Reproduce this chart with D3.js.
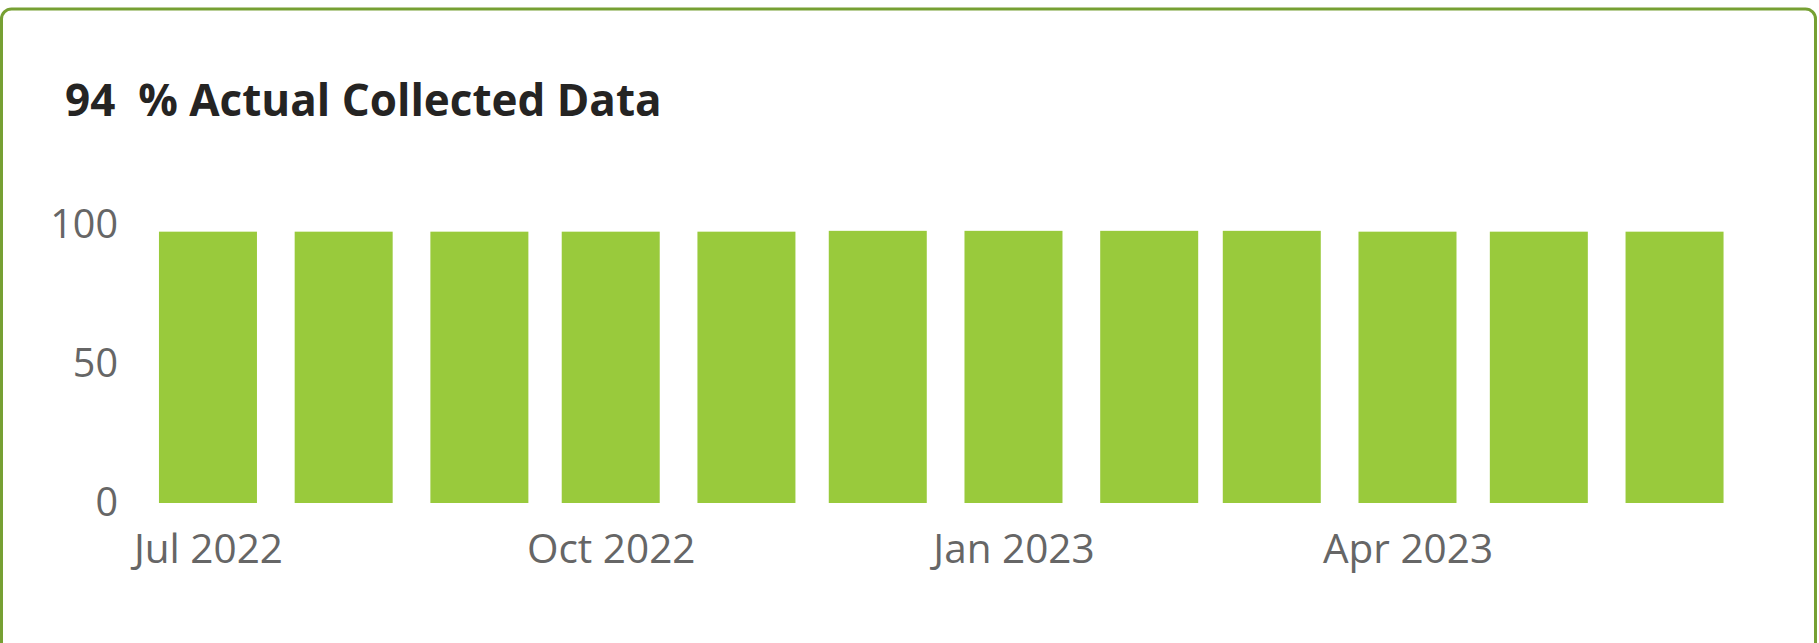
<!DOCTYPE html>
<html>
<head>
<meta charset="utf-8">
<script src="https://cdnjs.cloudflare.com/ajax/libs/d3/7.8.5/d3.min.js"></script>
<style>
  body { margin: 0; background: #fff; }
  svg { display: block; }
</style>
</head>
<body>
<script>
// monthly values
var months = ["2022-07-01", "2022-08-01", "2022-09-01", "2022-10-01", "2022-11-01", "2022-12-01",
              "2023-01-01", "2023-02-01", "2023-03-01", "2023-04-01", "2023-05-01", "2023-06-01"];
var values = [97.6, 97.6, 97.6, 97.6, 97.6, 97.9, 97.9, 97.9, 97.9, 97.6, 97.6, 97.6];
var yTicks = [0, 50, 100];
var xTicks = ["2022-07-01", "2022-10-01", "2023-01-01", "2023-04-01"];
var title = "94  % Actual Collected Data";

var width = 1819, height = 643;
var parse = d3.timeParse("%Y-%m-%d");

var svg = d3.select("body").append("svg")
  .attr("width", width)
  .attr("height", height);

// card border
svg.append("rect")
  .attr("x", 1.5).attr("y", 9)
  .attr("width", 1814).attr("height", 650)
  .attr("rx", 10).attr("ry", 10)
  .attr("fill", "#fff")
  .attr("stroke", "#76A033")
  .attr("stroke-width", 3);

svg.append("text")
  .attr("x", 65).attr("y", 116)
  .style("white-space", "pre")
  .attr("font-family", "'Open Sans', sans-serif")
  .attr("font-weight", 700)
  .attr("font-size", 44)
  .attr("fill", "#252423")
  .text(title);

var x = d3.scaleTime()
  .domain([parse("2022-06-20"), parse("2023-06-12")])
  .range([159.8, 1722.7]);

var y = d3.scaleLinear()
  .domain([0, 100])
  .range([503, 225]);

var barW = 98;

svg.selectAll(".bar")
  .data(months)
  .enter().append("rect")
  .attr("class", "bar")
  .attr("x", function(d) { return x(parse(d)) - barW / 2; })
  .attr("y", function(d, i) { return y(values[i]); })
  .attr("width", barW)
  .attr("height", function(d, i) { return y(0) - y(values[i]); })
  .attr("fill", "#99CA3C");

// y axis
var yAxis = svg.append("g")
  .attr("transform", "translate(118,0)")
  .call(d3.axisLeft(y).tickValues(yTicks).tickSize(0).tickPadding(0));
yAxis.select(".domain").remove();
yAxis.selectAll("text")
  .attr("font-family", "'Open Sans', sans-serif")
  .attr("font-size", 39.5)
  .attr("fill", "#666666");

// x axis
var xAxis = svg.append("g")
  .attr("transform", "translate(0,503)")
  .call(d3.axisBottom(x)
    .tickValues(xTicks.map(parse))
    .tickFormat(d3.timeFormat("%b %Y"))
    .tickSize(0).tickPadding(0));
xAxis.select(".domain").remove();
xAxis.selectAll("text")
  .attr("dy", null)
  .attr("y", 60)
  .attr("font-family", "'Open Sans', sans-serif")
  .attr("font-size", 40.5)
  .attr("fill", "#666666");
</script>
</body>
</html>
